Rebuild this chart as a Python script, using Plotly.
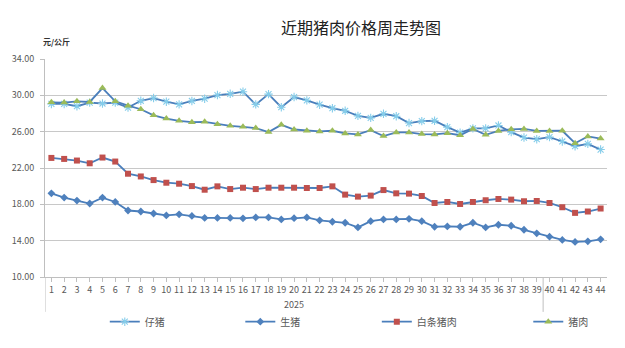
import plotly.graph_objects as go

# Weekly price series (元/公斤), weeks 1-44 of 2025
weeks = list(range(1, 45))
week_labels = [str(w) for w in weeks]
year_label = "2025"

piglet = [29.05, 29.05, 28.80, 29.20, 29.10, 29.20, 28.65, 29.40, 29.70, 29.30,
          29.00, 29.38, 29.63, 30.03, 30.17, 30.40, 29.00, 30.13, 28.69, 29.81,
          29.45, 28.97, 28.58, 28.30, 27.74, 27.52, 27.97, 27.70, 26.95, 27.16,
          27.20, 26.50, 25.90, 26.36, 26.36, 26.68, 25.95, 25.35, 25.17, 25.40,
          24.92, 24.40, 24.66, 24.03]
live_hog = [19.21, 18.74, 18.41, 18.09, 18.74, 18.26, 17.32, 17.21, 16.99, 16.78,
            16.90, 16.72, 16.50, 16.50, 16.50, 16.46, 16.56, 16.56, 16.34, 16.48,
            16.56, 16.24, 16.08, 15.97, 15.46, 16.15, 16.34, 16.34, 16.41, 16.15,
            15.53, 15.57, 15.53, 15.97, 15.46, 15.75, 15.64, 15.20, 14.81, 14.44,
            14.08, 13.86, 13.93, 14.15]
carcass = [23.11, 23.00, 22.82, 22.52, 23.15, 22.71, 21.37, 21.07, 20.67, 20.38,
           20.27, 20.01, 19.61, 19.98, 19.68, 19.83, 19.68, 19.83, 19.83, 19.83,
           19.80, 19.80, 19.98, 19.07, 18.85, 18.96, 19.57, 19.21, 19.18, 18.92,
           18.15, 18.26, 18.04, 18.26, 18.45, 18.59, 18.52, 18.34, 18.37, 18.15,
           17.68, 17.06, 17.21, 17.54]
pork = [29.23, 29.20, 29.34, 29.27, 30.80, 29.34, 28.86, 28.47, 27.80, 27.44,
        27.19, 27.05, 27.08, 26.83, 26.64, 26.53, 26.39, 25.95, 26.75, 26.24,
        26.10, 26.03, 26.10, 25.80, 25.70, 26.17, 25.52, 25.92, 25.92, 25.74,
        25.70, 25.83, 25.61, 26.30, 25.65, 26.08, 26.26, 26.30, 26.08, 26.08,
        26.10, 24.73, 25.48, 25.24]

series_names = ["仔猪", "生猪", "白条猪肉", "猪肉"]
y_ticks = [10, 14, 18, 22, 26, 30, 34]

LINE = "#4a7ebb"
FONT = "Noto Sans CJK SC"
GRAY_TXT = "#595959"

styles = [
    dict(symbol="asterisk-open", size=7, color="#86cdea", line=dict(width=1.1, color="#86cdea")),
    dict(symbol="diamond", size=6, color="#4f81bd", line=dict(width=0)),
    dict(symbol="square", size=6, color="#c0504d", line=dict(width=0)),
    dict(symbol="triangle-up", size=7, color="#9bbb59", line=dict(width=0)),
]

fig = go.Figure()
legend_ids = ["legend", "legend2", "legend3", "legend4"]
for name, vals, mk, lg in zip(series_names, [piglet, live_hog, carcass, pork], styles, legend_ids):
    fig.add_trace(go.Scatter(
        x=weeks, y=vals, name=name, mode="lines+markers",
        line=dict(color=LINE, width=1.8),
        marker=mk, legend=lg,
    ))

# plot area in pixels: x 43..607, y 59..278
plot_l, plot_w = 43, 564
legend_px = [103, 239, 376, 528]
legend_common = dict(orientation="h", yanchor="middle", y=-0.205, xanchor="left",
                     font=dict(family=FONT, size=10, color=GRAY_TXT),
                     bgcolor="rgba(0,0,0,0)", itemwidth=30, borderwidth=0)
layout_legends = {}
for lg, px in zip(legend_ids, legend_px):
    layout_legends[lg] = dict(x=(px - plot_l) / plot_w, **legend_common)

fig.update_layout(
    width=625, height=348,
    margin=dict(l=43, r=18, t=59, b=70),
    paper_bgcolor="white", plot_bgcolor="white",
    font=dict(family=FONT, color=GRAY_TXT),
    title=dict(text="近期猪肉价格周走势图", x=361 / 625, xanchor="center",
               y=1 - 28 / 348, yanchor="middle", yref="container",
               font=dict(family=FONT, size=16, color="#222222")),
    showlegend=True,
    **layout_legends,
)

fig.update_xaxes(
    range=[0.5, 44.5], tickmode="array", tickvals=weeks, ticktext=week_labels,
    showgrid=False, zeroline=False,
    showline=True, linecolor="#bfbfbf", linewidth=1,
    ticks="outside", ticklen=4, tickcolor="#bfbfbf",
    tickfont=dict(family=FONT, size=9, color=GRAY_TXT),
)
fig.update_yaxes(
    range=[10, 34], tickmode="array", tickvals=y_ticks,
    tickformat=".2f", showgrid=True, gridcolor="#c8c8c8", gridwidth=1,
    zeroline=False, showline=True, linecolor="#bfbfbf", linewidth=1,
    ticks="outside", ticklen=4, tickcolor="#bfbfbf", ticklabelstandoff=4,
    tickfont=dict(family=FONT, size=9, color=GRAY_TXT),
)

# year group label and category group dividers below the axis
fig.add_annotation(x=(1 + 39) / 2, xref="x", y=-0.128, yref="paper",
                   text=year_label, showarrow=False, yanchor="middle",
                   font=dict(family=FONT, size=9, color=GRAY_TXT))
for xd in [0.5, 39.5]:
    fig.add_shape(type="line", xref="x", yref="paper", x0=xd, x1=xd, y0=0, y1=-0.16,
                  line=dict(color="#bfbfbf", width=1))

# unit label above the value axis
fig.add_annotation(x=-0.008, xref="paper", y=(278.3 - 41) / 219.3, yref="paper",
                   text="<b>元/公斤</b>", showarrow=False, xanchor="left", yanchor="middle",
                   font=dict(family=FONT, size=8, color="#333333"))

fig.write_html("out.html")
